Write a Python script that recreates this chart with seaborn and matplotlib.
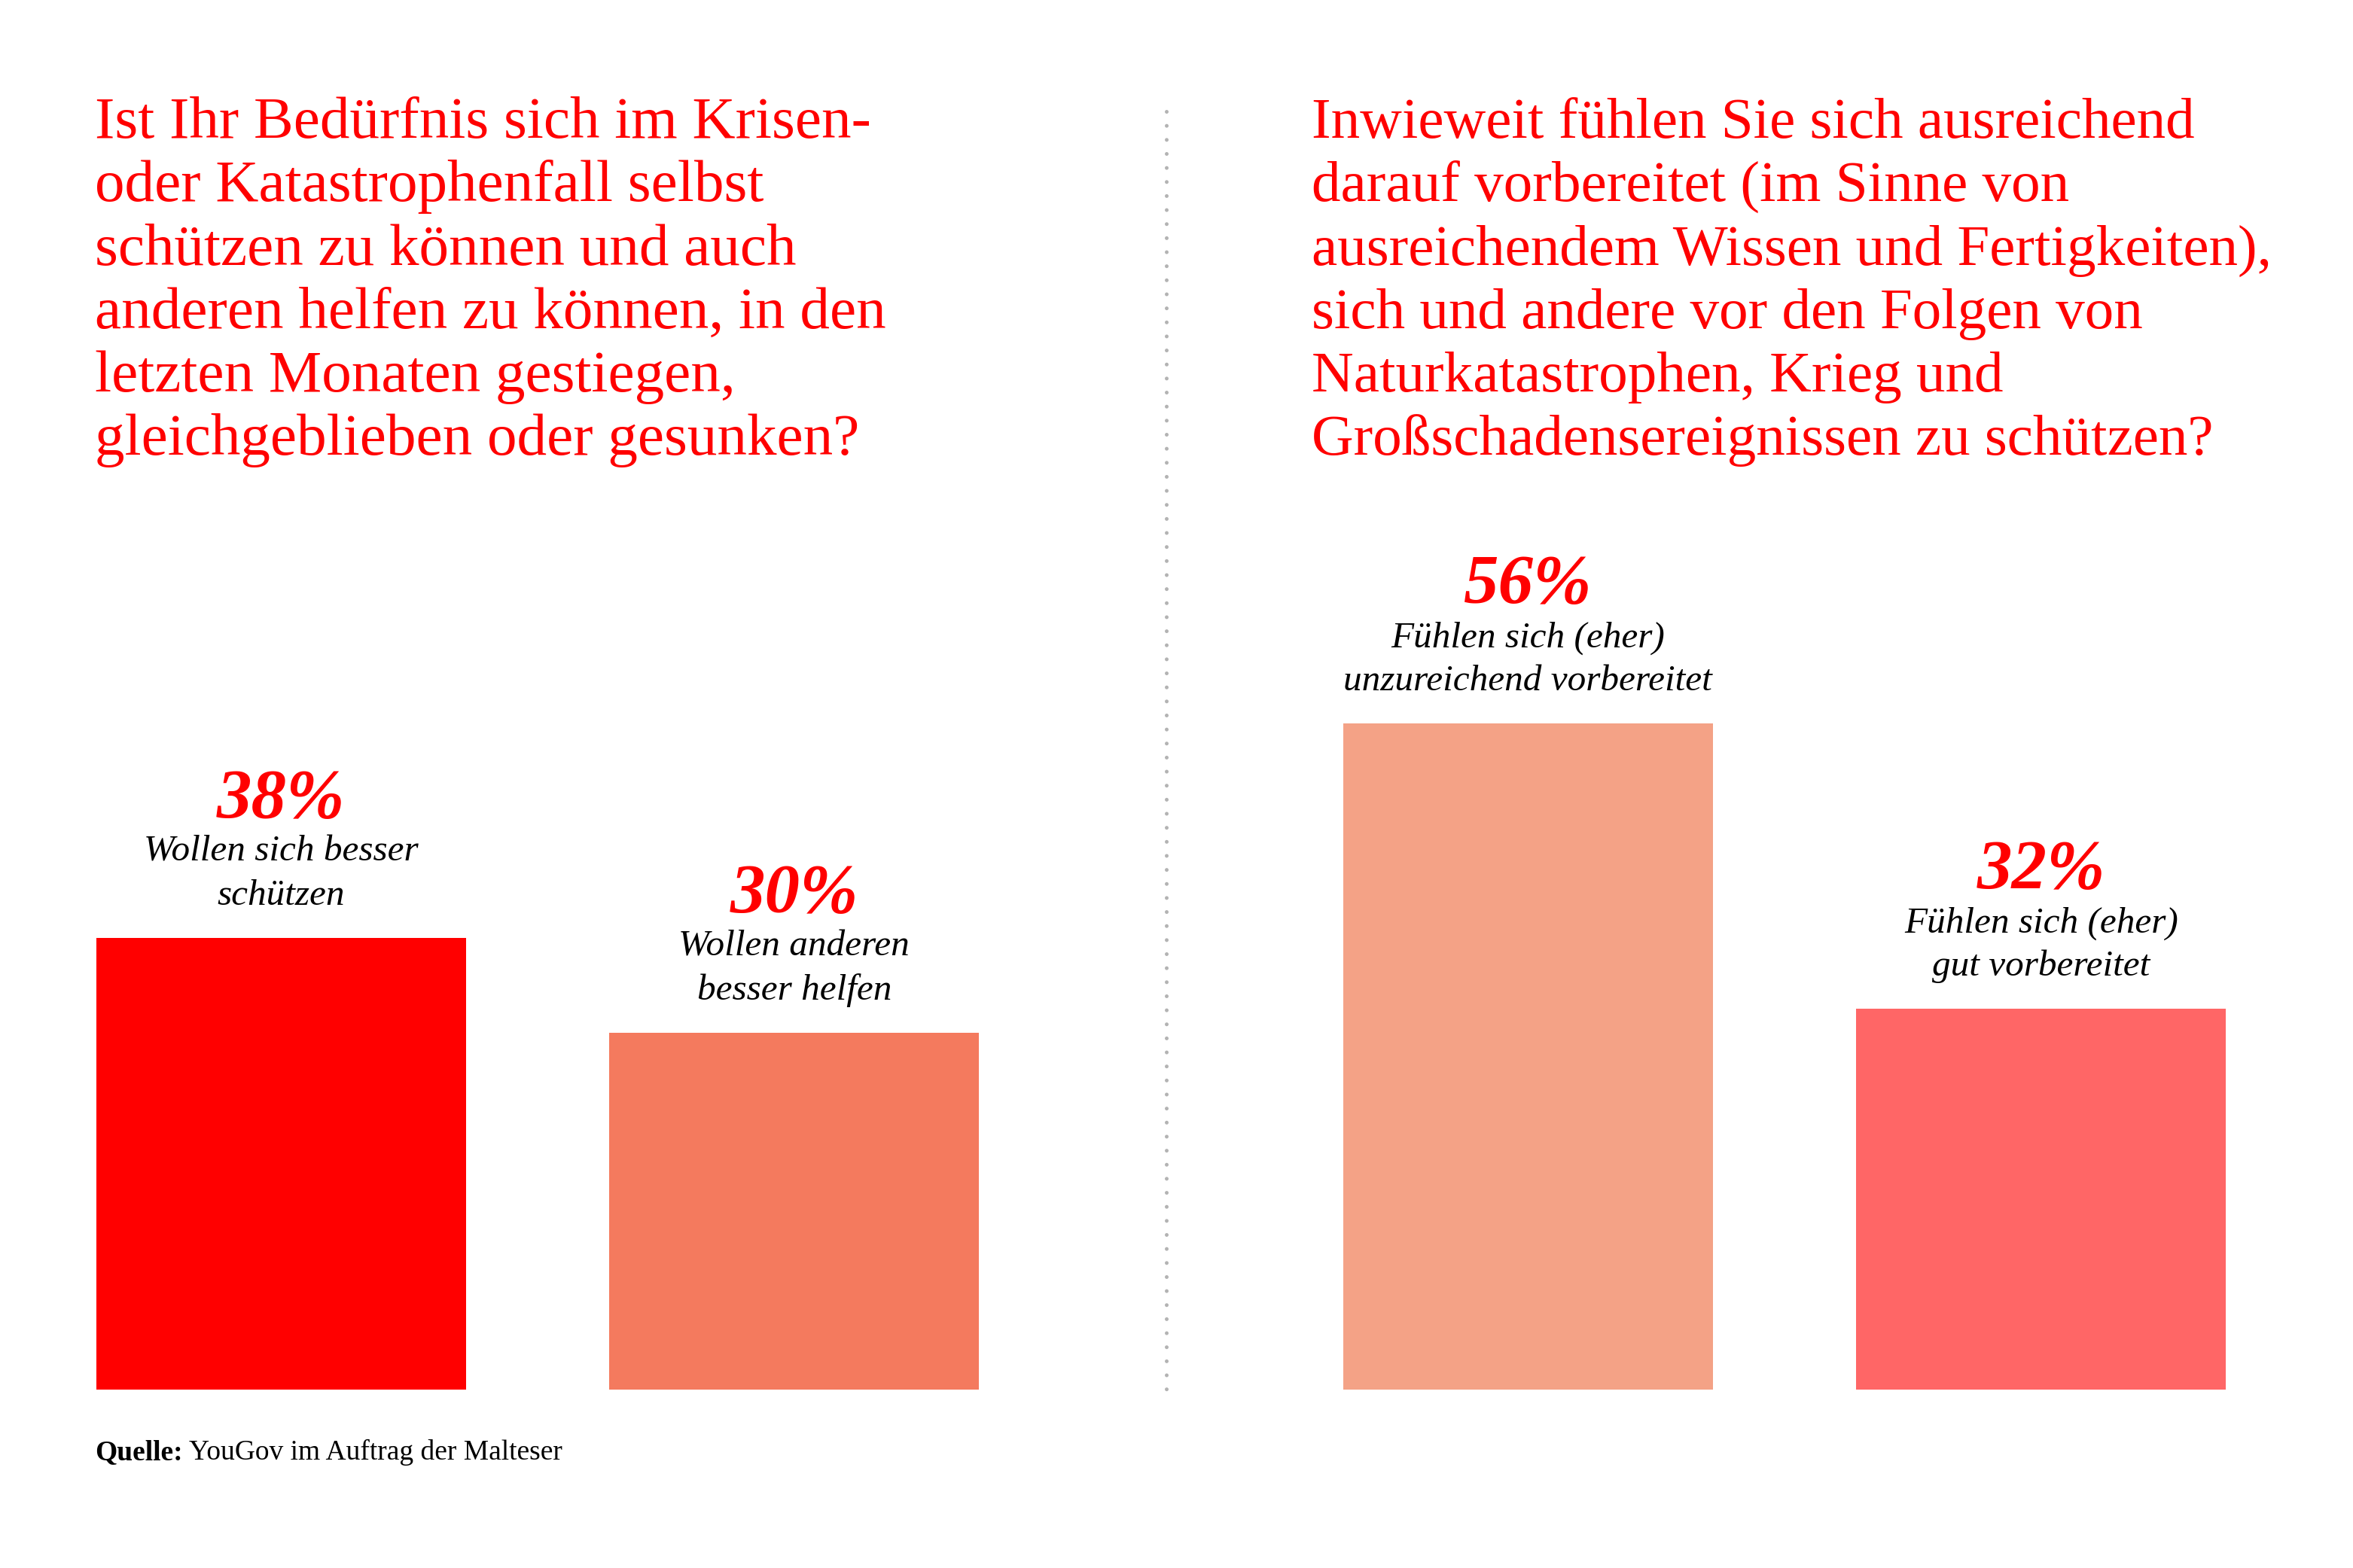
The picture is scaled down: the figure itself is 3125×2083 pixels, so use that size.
import matplotlib
matplotlib.use("Agg")
import matplotlib.pyplot as plt
from matplotlib.lines import Line2D
import seaborn as sns
import pandas as pd

# ---------------- data ----------------
left_title = ["Ist Ihr Bedürfnis sich im Krisen-",
              "oder Katastrophenfall selbst",
              "schützen zu können und auch",
              "anderen helfen zu können, in den",
              "letzten Monaten gestiegen,",
              "gleichgeblieben oder gesunken?"]
right_title = ["Inwieweit fühlen Sie sich ausreichend",
               "darauf vorbereitet (im Sinne von",
               "ausreichendem Wissen und Fertigkeiten),",
               "sich und andere vor den Folgen von",
               "Naturkatastrophen, Krieg und",
               "Großschadensereignissen zu schützen?"]

left_categories = ["Wollen sich besser\nschützen", "Wollen anderen\nbesser helfen"]
left_values = [38, 30]
left_colors = ["#FF0000", "#F47A5E"]

right_categories = ["Fühlen sich (eher)\nunzureichend vorbereitet", "Fühlen sich (eher)\ngut vorbereitet"]
right_values = [56, 32]
right_colors = ["#F4A286", "#FF6666"]

source_bold = "Quelle:"
source_text = "YouGov im Auftrag der Malteser"

# ---------------- figure ----------------
W, H = 3125, 2083
DPI = 100
sns.set_theme(style="white")
plt.rcParams["font.family"] = ["Liberation Serif", "DejaVu Serif"]

fig = plt.figure(figsize=(W / DPI, H / DPI), dpi=DPI)
fig.patch.set_facecolor("white")

def fx(px):
    return px / W

def fy(py):
    return 1 - py / H

RED = "#FF0000"
baseline_px = 1846
top_px = 266  # y=100 %

def make_panel(x0, x1, cats, vals, cols):
    ax = fig.add_axes([fx(x0), fy(baseline_px), fx(x1 - x0), (baseline_px - top_px) / H])
    df = pd.DataFrame({"cat": cats, "val": vals})
    sns.barplot(data=df, x="cat", y="val", hue="cat", palette=cols, legend=False,
                width=0.72, saturation=1, ax=ax, edgecolor="none", linewidth=0)
    ax.set_xlim(-0.36, 1.36)
    ax.set_ylim(0, 100)
    ax.axis("off")
    for i, (c, v) in enumerate(zip(cats, vals)):
        l1, l2 = c.split("\n")
        ax.annotate(f"{v}%", xy=(i, v), xytext=(0, 160 * 0.72), textcoords="offset points",
                    ha="center", va="baseline", fontsize=67, fontweight="bold",
                    fontstyle="italic", color=RED)
        ax.annotate(l1, xy=(i, v), xytext=(0, 102 * 0.72), textcoords="offset points",
                    ha="center", va="baseline", fontsize=35.5, fontstyle="italic", color="black")
        ax.annotate(l2, xy=(i, v), xytext=(0, 44 * 0.72), textcoords="offset points",
                    ha="center", va="baseline", fontsize=35.5, fontstyle="italic", color="black")
    return ax

make_panel(128, 1300, left_categories, left_values, left_colors)
make_panel(1784, 2956, right_categories, right_values, right_colors)

# titles
base0 = 183
step = 84.3
for k, line in enumerate(left_title):
    fig.text(fx(126), fy(base0 + k * step), line, ha="left", va="baseline",
             fontsize=57, color=RED)
for k, line in enumerate(right_title):
    fig.text(fx(1742), fy(base0 + k * step), line, ha="left", va="baseline",
             fontsize=55.5, color=RED)

# dotted separator
fig.add_artist(Line2D([fx(1549), fx(1549)], [fy(148), fy(1852)], transform=fig.transFigure,
                      color="#B3B3B3", linestyle=(0, (0.01, 3.72)), linewidth=3.6,
                      dash_capstyle="round", solid_capstyle="round"))

# source
t = fig.text(fx(126), fy(1939), source_bold, ha="left", va="baseline",
             fontsize=27, fontweight="bold", color="black")
plt.annotate(" " + source_text, xy=(1, 0), xycoords=t, ha="left", va="bottom",
             fontsize=27, color="black", annotation_clip=False)

fig.savefig("out.png", dpi=DPI, facecolor="white")
